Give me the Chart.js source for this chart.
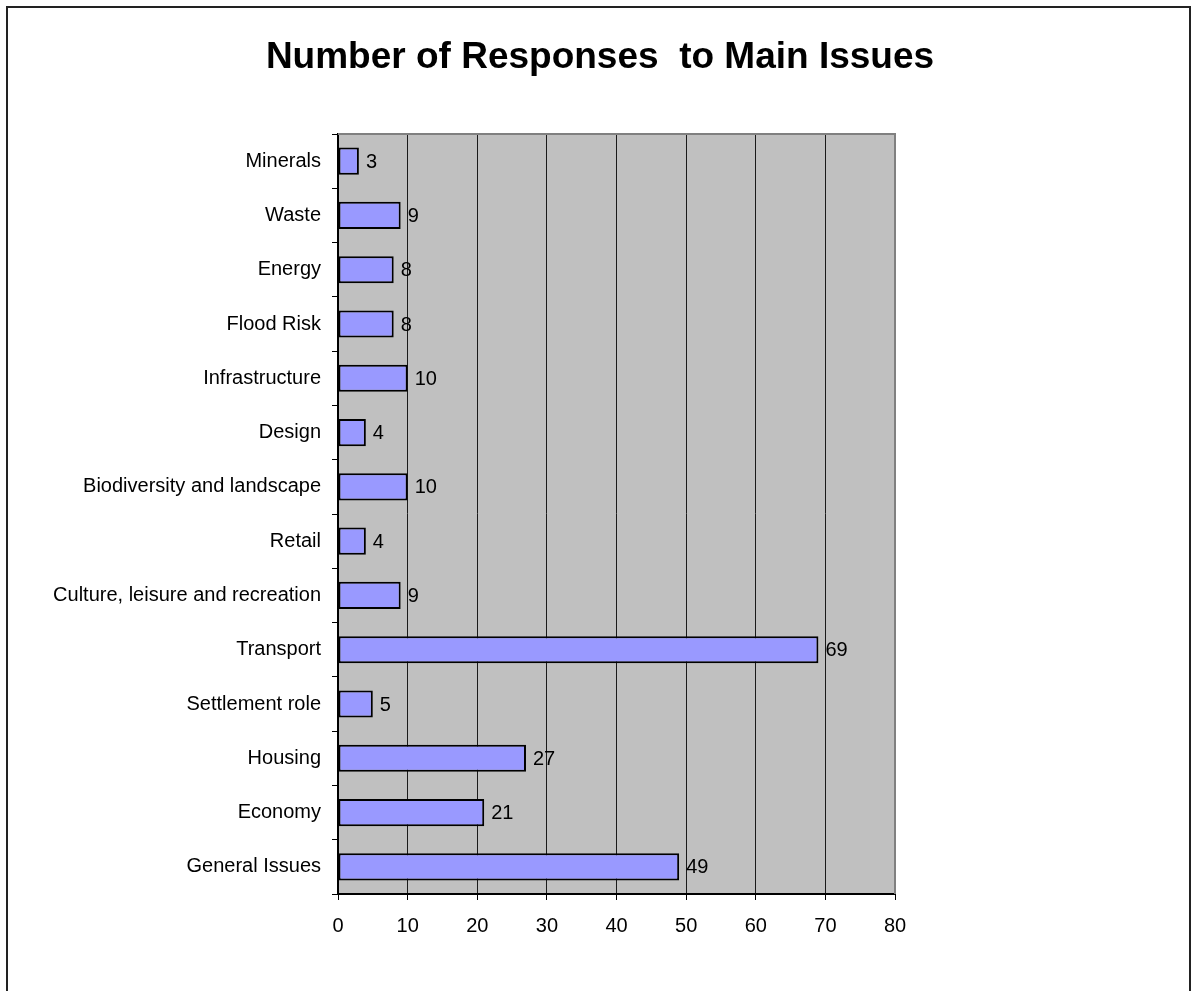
<!DOCTYPE html>
<html>
<head>
<meta charset="utf-8">
<script src="https://cdn.jsdelivr.net/npm/chart.js@4.4.1/dist/chart.umd.min.js"></script>
<style>
  html, body { margin: 0; padding: 0; background: #fff; }
  #wrap { position: relative; width: 1195px; height: 991px; }
</style>
</head>
<body>
<div id="wrap"><canvas id="c" width="1195" height="991"></canvas></div>
<script>
const chartTitle = "Number of Responses  to Main Issues";
const categories = [
  "Minerals", "Waste", "Energy", "Flood Risk", "Infrastructure", "Design",
  "Biodiversity and landscape", "Retail", "Culture, leisure and recreation",
  "Transport", "Settlement role", "Housing", "Economy", "General Issues"
];
const responses = [3, 9, 8, 8, 10, 4, 10, 4, 9, 69, 5, 27, 21, 49];
const xTicks = [0, 10, 20, 30, 40, 50, 60, 70, 80];

const FONT = '"Liberation Sans", Arial, sans-serif';

const decorPlugin = {
  id: 'decor',
  beforeDraw(chart) {
    const { ctx, chartArea: a } = chart;
    ctx.save();
    ctx.fillStyle = '#c0c0c0';
    ctx.fillRect(a.left, a.top, a.right - a.left, a.bottom - a.top);
    ctx.restore();
  },
  beforeDatasetsDraw(chart) {
    const { ctx, chartArea: a } = chart;
    ctx.save();
    ctx.strokeStyle = '#808080';
    ctx.lineWidth = 2;
    ctx.beginPath();
    ctx.moveTo(a.left, a.top);
    ctx.lineTo(a.right, a.top);
    ctx.lineTo(a.right, a.bottom);
    ctx.stroke();
    ctx.restore();
  },
  afterDatasetsDraw(chart) {
    const { ctx } = chart;
    const meta = chart.getDatasetMeta(0);
    ctx.save();
    ctx.fillStyle = '#000';
    ctx.font = '20px ' + FONT;
    ctx.textBaseline = 'middle';
    ctx.textAlign = 'left';
    meta.data.forEach((el, i) => {
      ctx.fillText(String(chart.data.datasets[0].data[i]), el.x + 7, el.y + 1);
    });
    ctx.restore();
  },
  afterDraw(chart) {
    const { ctx } = chart;
    ctx.save();
    ctx.fillStyle = '#000';
    ctx.font = 'bold 37px ' + FONT;
    ctx.textAlign = 'center';
    ctx.textBaseline = 'middle';
    ctx.fillText(chartTitle, 600, 58);
    ctx.strokeStyle = '#222';
    ctx.lineWidth = 2;
    ctx.beginPath();
    ctx.moveTo(7, 1000);
    ctx.lineTo(7, 7);
    ctx.lineTo(1190, 7);
    ctx.lineTo(1190, 1000);
    ctx.stroke();
    ctx.restore();
  }
};

new Chart(document.getElementById('c'), {
  type: 'bar',
  data: {
    labels: categories,
    datasets: [{
      data: responses,
      backgroundColor: '#9999ff',
      borderColor: '#000',
      borderWidth: 2,
      borderSkipped: false,
      barPercentage: 0.5,
      categoryPercentage: 1.0
    }]
  },
  options: {
    indexAxis: 'y',
    responsive: false,
    animation: false,
    layout: { padding: { top: 134, right: 300, bottom: 0, left: 0 } },
    plugins: {
      legend: { display: false },
      title: { display: false },
      tooltip: { enabled: false }
    },
    scales: {
      x: {
        min: 0, max: 80,
        afterBuildTicks(scale) { scale.ticks = xTicks.map(v => ({ value: v })); },
        afterFit(scale) { scale.height = 97; },
        grid: {
          color: (c) => (c.tick && c.tick.value === 80) ? '#808080' : '#1a1a1a',
          lineWidth: 1,
          drawTicks: true,
          tickLength: 6,
          tickColor: '#000'
        },
        border: { display: true, color: '#000', width: 2 },
        ticks: { color: '#000', font: { family: FONT, size: 20 }, padding: 14, maxRotation: 0 }
      },
      y: {
        afterFit(scale) { scale.width = 338; },
        grid: {
          offset: true,
          drawOnChartArea: false,
          drawTicks: true,
          tickLength: 6,
          tickColor: '#000'
        },
        border: { display: true, color: '#000', width: 2 },
        ticks: { color: '#000', font: { family: FONT, size: 20 }, padding: 11 }
      }
    }
  },
  plugins: [decorPlugin]
});
</script>
</body>
</html>
